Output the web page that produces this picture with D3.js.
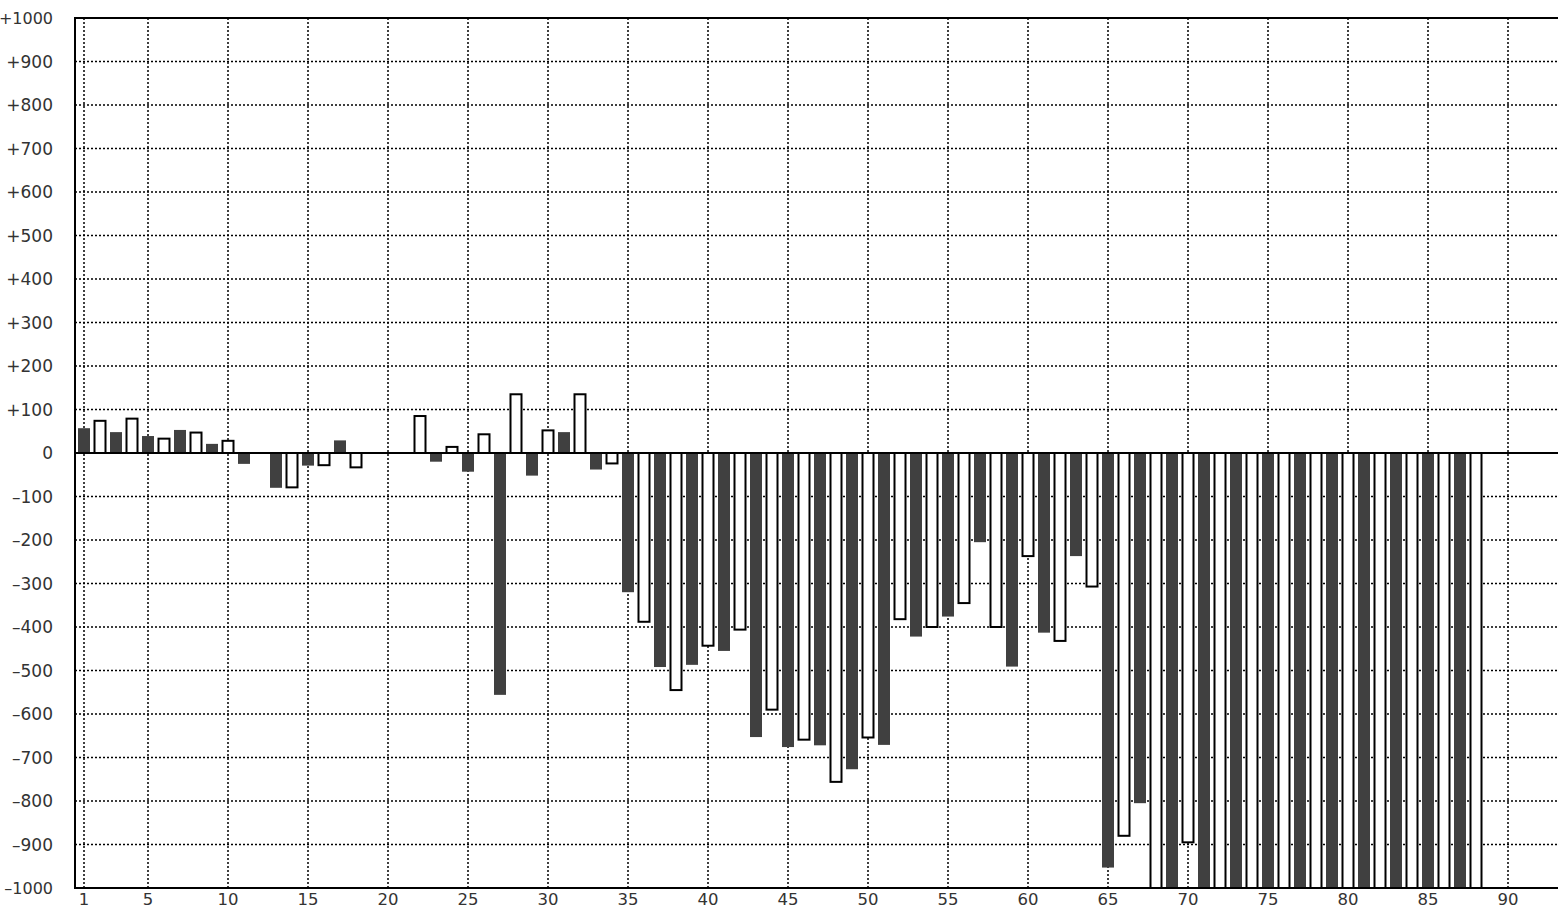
<!DOCTYPE html>
<html>
<head>
<meta charset="utf-8">
<script src="https://cdn.jsdelivr.net/npm/d3@7"></script>
<style>
html, body { margin: 0; padding: 0; background: #fff; overflow: hidden; }
svg { display: block; }
</style>
</head>
<body>
<svg id="chart" width="1558" height="908"></svg>
<script>
// ---- data ----
const categories = [1,2,3,4,5,6,7,8,9,10,11,12,13,14,15,16,17,18,19,20,21,22,23,24,25,26,27,28,29,30,
  31,32,33,34,35,36,37,38,39,40,41,42,43,44,45,46,47,48,49,50,51,52,53,54,55,56,57,58,59,60,
  61,62,63,64,65,66,67,68,69,70,71,72,73,74,75,76,77,78,79,80,81,82,83,84,85,86,87,88];
const values = [57,74,48,79,39,33,53,47,21,28,-25,0,-80,-79,-29,-28,29,-33,0,0,
  -1,85,-20,14,-43,43,-556,135,-52,52,48,135,-38,-24,-320,-388,-492,-545,-487,-443,
  -455,-406,-653,-590,-676,-659,-672,-756,-727,-654,-671,-382,-422,-400,-376,-345,-205,-400,-491,-237,
  -413,-432,-237,-307,-953,-880,-805,-1000,-1000,-895,-1000,-1000,-1000,-1000,-1000,-1000,-1000,-1000,-1000,-1000,
  -1000,-1000,-1000,-1000,-1000,-1000,-1000,-1000];
const xTicks = [1,5,10,15,20,25,30,35,40,45,50,55,60,65,70,75,80,85,90];
const yTicks = [1000,900,800,700,600,500,400,300,200,100,0,-100,-200,-300,-400,-500,-600,-700,-800,-900,-1000];

(function () {
// ---- layout ----
const svg = d3.select("#chart");
const pL = 75, pT = 18, pB = 888, pR = 1564;
const x = d3.scaleLinear().domain([0.4375, 93.5]).range([pL, pR]);
const y = d3.scaleLinear().domain([-1000, 1000]).range([pB, pT]);
const barW = 12;

svg.append("defs").append("clipPath").attr("id", "plotClip")
  .append("rect").attr("x", pL).attr("y", pT).attr("width", pR - pL).attr("height", pB - pT);

const plot = svg.append("g").attr("clip-path", "url(#plotClip)");

// grid
plot.selectAll("line.hgrid").data(yTicks.filter(d => d !== 0 && Math.abs(d) !== 1000)).enter()
  .append("line").attr("class", "hgrid")
  .attr("x1", pL).attr("x2", pR)
  .attr("y1", d => y(d)).attr("y2", d => y(d))
  .attr("stroke", "#000").attr("stroke-width", 1.5).attr("stroke-dasharray", "2,2");
plot.selectAll("line.vgrid").data(xTicks).enter()
  .append("line").attr("class", "vgrid")
  .attr("x1", d => x(d)).attr("x2", d => x(d))
  .attr("y1", pT).attr("y2", pB)
  .attr("stroke", "#000").attr("stroke-width", 1.5).attr("stroke-dasharray", "2,2");

// bars
const data = categories.map((c, i) => ({ c, v: values[i], filled: c % 2 === 1 }));
plot.selectAll("rect.bar").data(data.filter(d => d.filled)).enter()
  .append("rect").attr("class", "bar")
  .attr("x", d => x(d.c) - barW / 2)
  .attr("width", barW)
  .attr("y", d => Math.min(y(d.v), y(0)))
  .attr("height", d => Math.max(Math.abs(y(d.v) - y(0)), d.v !== 0 ? 1 : 0))
  .attr("fill", "#404040");
plot.selectAll("rect.hbar").data(data.filter(d => !d.filled && d.v !== 0)).enter()
  .append("rect").attr("class", "hbar")
  .attr("x", d => x(d.c) - (barW - 1) / 2)
  .attr("width", barW - 1)
  .attr("y", d => Math.min(y(d.v), y(0)))
  .attr("height", d => Math.abs(y(d.v) - y(0)))
  .attr("fill", "#fff").attr("stroke", "#000").attr("stroke-width", 2);

// zero line
svg.append("line").attr("x1", pL).attr("x2", pR).attr("y1", y(0)).attr("y2", y(0))
  .attr("stroke", "#000").attr("stroke-width", 2);

// frame
svg.append("path")
  .attr("d", `M${pR},${pT}H${pL}V${pB}H${pR}`)
  .attr("fill", "none").attr("stroke", "#000").attr("stroke-width", 2);

// y labels
const fmtY = d => d > 0 ? "+" + d : d < 0 ? "\u2013" + Math.abs(d) : "0";
svg.append("g").selectAll("text").data(yTicks).enter().append("text")
  .attr("x", 53).attr("y", d => y(d)).attr("dy", "0.36em")
  .attr("text-anchor", "end")
  .attr("font-family", "DejaVu Sans, sans-serif").attr("font-size", d => Math.abs(d) === 1000 ? 16 : 17)
  .attr("fill", "#333")
  .text(fmtY);

// x labels
svg.append("g").selectAll("text").data(xTicks).enter().append("text")
  .attr("x", d => x(d)).attr("y", 905)
  .attr("text-anchor", "middle")
  .attr("font-family", "DejaVu Sans, sans-serif").attr("font-size", 16.5)
  .attr("fill", "#333")
  .text(d => d);
})();
</script>
</body>
</html>
